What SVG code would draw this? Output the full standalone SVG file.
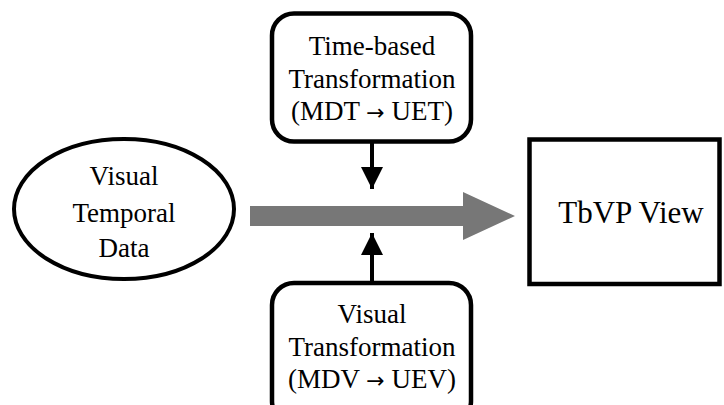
<svg xmlns="http://www.w3.org/2000/svg" width="724" height="405" viewBox="0 0 724 405">
<style>
.t{font-family:"Liberation Serif","Times New Roman",serif;font-size:27px;fill:#000;text-anchor:middle}
.a{font-family:"DejaVu Sans",sans-serif;font-size:22px}
.b{fill:#fff;stroke:#000;stroke-width:4.5}
.c{stroke:#000;stroke-width:4;fill:none}
</style>
<defs>
<marker id="ah" viewBox="0 0 22 22" markerWidth="22" markerHeight="22" refX="22" refY="11" markerUnits="userSpaceOnUse" orient="auto">
<path d="M0,0 L22,11 L0,22 Z" fill="#000"/>
</marker>
</defs>
<rect width="724" height="405" fill="#fff"/>
<g id="connectors">
<path d="M250,206 H463 V192 L515,216 L463,240 V226 H250 Z" fill="#777"/>
<line class="c" x1="372" y1="142" x2="372" y2="189" marker-end="url(#ah)"/>
<line class="c" x1="372" y1="283" x2="372" y2="233" marker-end="url(#ah)"/>
</g>
<g id="data">
<ellipse class="b" cx="124" cy="209" rx="110" ry="70" style="stroke-width:4"/>
<text class="t" x="124" y="185">Visual</text>
<text class="t" x="124" y="222">Temporal</text>
<text class="t" x="124" y="257">Data</text>
</g>
<g id="timebased">
<rect class="b" x="272" y="13.5" width="199" height="128" rx="22"/>
<text class="t" x="372" y="55">Time-based</text>
<text class="t" x="372" y="87.5">Transformation</text>
<text class="t" x="372" y="120">(MDT <tspan class="a">→</tspan> UET)</text>
</g>
<g id="visual">
<rect class="b" x="272" y="283" width="199" height="140" rx="22"/>
<text class="t" x="372" y="323">Visual</text>
<text class="t" x="372" y="356">Transformation</text>
<text class="t" x="372" y="388">(MDV <tspan class="a">→</tspan> UEV)</text>
</g>
<g id="view">
<rect class="b" x="529.5" y="139.5" width="190" height="144.5"/>
<text class="t" x="631" y="223" style="font-size:31px">TbVP View</text>
</g>
</svg>
